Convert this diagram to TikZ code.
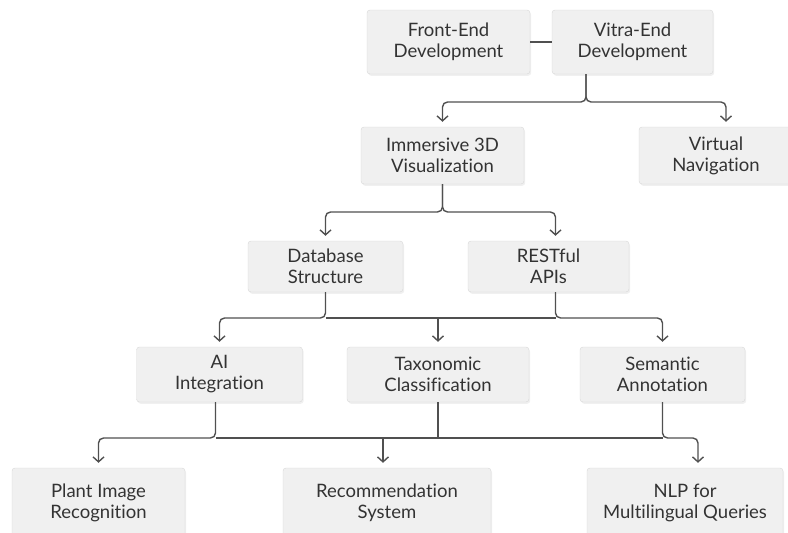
\documentclass[tikz,border=0pt]{standalone}
\usepackage{fontspec}
\setmainfont{Lato}[Ligatures={NoCommon}]
\usetikzlibrary{arrows.meta,shadows}
\definecolor{boxfill}{HTML}{F0F0F0}
\definecolor{boxline}{HTML}{D8D8D8}
\definecolor{textcol}{HTML}{333333}
\definecolor{linecol}{HTML}{505050}
\tikzstyle{module}=[rectangle,draw=boxline,fill=boxfill,rounded corners=3pt,align=center,text=textcol,inner sep=0pt,font=\fontsize{18.5}{21}\selectfont,drop shadow={shadow xshift=1.2pt,shadow yshift=-1.8pt,opacity=0.12}]
\tikzstyle{link}=[draw=linecol,line width=1.4pt,rounded corners=5pt]
\tikzstyle{feed}=[link,-{Straight Barb[length=5pt,width=11pt]},shorten >=5pt]

\begin{document}
\begin{tikzpicture}[x=1pt,y=-1pt]
    \useasboundingbox (0,0) rectangle (788,533);
    % top row
    \node[module,minimum width=163pt,minimum height=64pt] (front) at (448.5,42) {Front-End\\Development};
    \node[module,minimum width=161pt,minimum height=64pt] (vitra) at (632.5,42) {Vitra-End\\Development};
    % second row
    \node[module,minimum width=163pt,minimum height=57pt] (immersive) at (442.5,155.5) {Immersive 3D\\Visualization};
    \node[module,minimum width=154pt,minimum height=57pt] (virtual) at (716,155.5) {Virtual\\Navigation};
    % third row
    \node[module,minimum width=155pt,minimum height=51pt] (database) at (325.5,266.5) {Database\\Structure};
    \node[module,minimum width=161pt,minimum height=51pt] (restful) at (548.5,266.5) {RESTful\\APIs};
    % fourth row
    \node[module,minimum width=166pt,minimum height=55pt] (ai) at (219.5,374.5) {AI\\Integration};
    \node[module,minimum width=182pt,minimum height=55pt] (taxonomic) at (438,374.5) {Taxonomic\\Classification};
    \node[module,minimum width=165pt,minimum height=55pt] (semantic) at (662.5,374.5) {Semantic\\Annotation};
    % bottom row
    \node[module,minimum width=173pt,minimum height=70pt] (plant) at (98.5,503) {Plant Image\\Recognition};
    \node[module,minimum width=208pt,minimum height=70pt] (recommend) at (387,503) {Recommendation\\System};
    \node[module,minimum width=196pt,minimum height=70pt] (nlp) at (685,503) {NLP for\\Multilingual Queries};

    \coordinate (vsplit) at (586,102);
    \coordinate (isplit) at (441,212);
    \coordinate (msplit) at (0,318);
    \coordinate (lsplit) at (0,438);

    \draw[link] (front.east) -- (vitra.west);
    \draw[feed] (vitra.south -| vsplit) -- (vsplit) -| (immersive.north);
    \draw[feed] (vitra.south -| vsplit) -- (vsplit) -| ([xshift=10pt]virtual.north);

    \draw[feed] (immersive.south) -- (immersive.south |- isplit) -| (database.north);
    \draw[feed] (immersive.south) -- (immersive.south |- isplit) -| ([xshift=7pt]restful.north);

    \draw[feed] (database.south) -- (database.south |- msplit) -| (ai.north);
    \draw[feed] ([xshift=7pt]restful.south) -- ([xshift=7pt]restful.south |- msplit) -| (semantic.north);
    \draw[link] (database.south |- msplit) -- ([xshift=7pt]restful.south |- msplit);
    \draw[feed] (taxonomic.north |- msplit) -- (taxonomic.north);

    \draw[feed] ([xshift=-4pt]ai.south) -- ([xshift=-4pt]ai.south |- lsplit) -| (plant.north);
    \draw[feed] (semantic.south) -- (semantic.south |- lsplit) -| ([xshift=13pt]nlp.north);
    \draw[link] ([xshift=-4pt]ai.south |- lsplit) -- (semantic.south |- lsplit);
    \draw[link] (taxonomic.south) -- (taxonomic.south |- lsplit);
    \draw[feed] ([xshift=-4pt]recommend.north |- lsplit) -- ([xshift=-4pt]recommend.north);
\end{tikzpicture}
\end{document}
